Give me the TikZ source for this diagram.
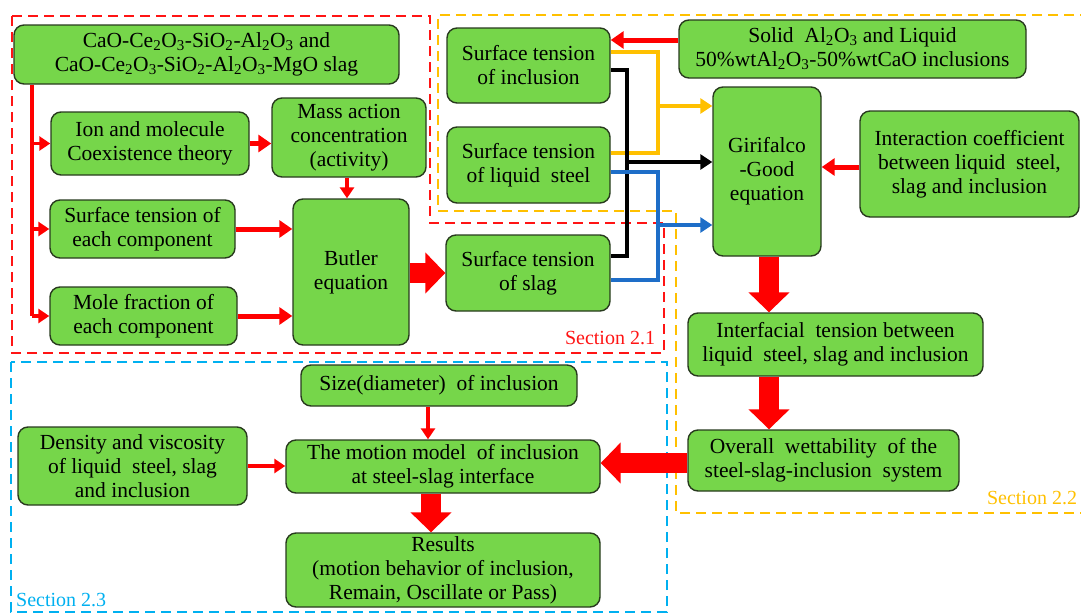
\documentclass[tikz,border=0pt]{standalone}
\usepackage{fontspec}
\setmainfont{Liberation Serif}
\usetikzlibrary{arrows.meta}
\definecolor{boxgreen}{RGB}{118,214,74}
\definecolor{boxedge}{RGB}{40,58,30}
\definecolor{secred}{RGB}{255,20,20}
\definecolor{secorange}{RGB}{255,192,0}
\definecolor{seccyan}{RGB}{0,176,240}
\definecolor{flowblue}{RGB}{30,110,200}
\definecolor{flowred}{RGB}{255,0,0}
\tikzset{
  box/.style={draw=boxedge, line width=1.4pt, fill=boxgreen, rounded corners=10pt,
    align=center, inner sep=0pt, font=\fontsize{21.5}{24}\selectfont},
  secframe/.style={line width=2.4pt, dash pattern=on 10pt off 6pt},
  thinarrow/.style={draw=flowred, line width=3.2pt, -{Triangle[length=11pt,width=14pt]}},
  medarrow/.style={draw=flowred, line width=5pt, -{Triangle[length=13pt,width=17pt]}},
  bigarrow/.style={draw=flowred, line width=20pt, -{Triangle[length=20pt,width=40pt]}},
  flowline/.style={line width=4.2pt},
  flowarrow/.style={line width=4.2pt, -{Triangle[length=12pt,width=15pt]}},
  seclabel/.style={font=\fontsize{20}{22}\selectfont, inner sep=0pt}
}
\begin{document}
\begin{tikzpicture}[x=1pt,y=-1pt]
\useasboundingbox (0,0) rectangle (1081,613);
\begin{scope}
\clip (0,0) rectangle (1081,613);
% section frames
\draw[secframe, draw=secred] (12,16) -- (430,16) -- (430,223) -- (664,223) -- (664,353) -- (12,353) -- cycle;
\draw[secframe, draw=secorange] (1090,15) -- (438,15) -- (438,211) -- (676,211) -- (676,513) -- (1090,513);
\draw[secframe, draw=seccyan] (11,362) rectangle (667,612);
\end{scope}
\node[seclabel, text=secred] (s21) at (610,338) {Section 2.1};
\node[seclabel, text=secorange] (s22) at (1032,498) {Section 2.2};
\node[seclabel, text=seccyan, anchor=west] (s23) at (16,600) {Section 2.3};

% boxes
\node[box, minimum width=385pt, minimum height=59pt] (slag) at (206.5,54.5)
  {CaO-Ce\textsubscript{2}O\textsubscript{3}-SiO\textsubscript{2}-Al\textsubscript{2}O\textsubscript{3} and\\
   CaO-Ce\textsubscript{2}O\textsubscript{3}-SiO\textsubscript{2}-Al\textsubscript{2}O\textsubscript{3}-MgO slag};
\node[box, minimum width=198pt, minimum height=63pt] (ion) at (150,143.5) {Ion and molecule\\Coexistence theory};
\node[box, minimum width=154pt, minimum height=79pt] (mass) at (349,137.5) {Mass action\\concentration\\(activity)};
\node[box, minimum width=185pt, minimum height=58pt] (each) at (142.5,229) {Surface tension of\\each component};
\node[box, minimum width=187pt, minimum height=58pt] (mole) at (143.5,316) {Mole fraction of\\each component};
\node[box, minimum width=116pt, minimum height=146pt] (butler) at (351,272) {Butler\\equation};
\node[box, minimum width=164pt, minimum height=76pt] (stslag) at (528,273) {Surface tension\\of slag};
\node[box, minimum width=163pt, minimum height=75pt] (stincl) at (528.5,65.5) {Surface tension\\of inclusion};
\node[box, minimum width=163pt, minimum height=76pt] (ststeel) at (528.5,165) {Surface tension\\of liquid\ \ steel};
\node[box, minimum width=347pt, minimum height=58pt] (solid) at (852.5,49)
  {Solid\ \ Al\textsubscript{2}O\textsubscript{3} and Liquid\\50\%wtAl\textsubscript{2}O\textsubscript{3}-50\%wtCaO inclusions};
\node[box, minimum width=108pt, minimum height=169pt] (giri) at (767,171.5) {Girifalco\\-Good\\equation};
\node[box, minimum width=219pt, minimum height=106pt] (inter) at (969.5,164) {Interaction coefficient\\between liquid\ \ steel,\\slag and inclusion};
\node[box, minimum width=295pt, minimum height=63pt] (interf) at (835.5,344.5) {Interfacial\ \ tension between\\liquid\ \ steel, slag and inclusion};
\node[box, minimum width=271pt, minimum height=61pt] (overall) at (823.5,460.5) {Overall\ \ wettability\ \ of the\\steel-slag-inclusion\ \ system};
\node[box, minimum width=276pt, minimum height=41pt] (size) at (439,385.5) {Size(diameter)\ \ of inclusion};
\node[box, minimum width=314pt, minimum height=53pt] (motion) at (443,466.5) {The motion model\ \ of inclusion\\at steel-slag interface};
\node[box, minimum width=229pt, minimum height=78pt] (dens) at (132.5,466) {Density and viscosity\\of liquid\ \ steel, slag\\and inclusion};
\node[box, minimum width=314pt, minimum height=74pt] (res) at (443,570) {Results\\(motion behavior of inclusion,\\Remain, Oscillate or Pass)};

% junction coordinates
\coordinate (trunk) at (32,0);
\coordinate (jbl) at (627,0);
\coordinate (jor) at (658,0);
\coordinate (dn) at (769,0);

% section 2.1 arrows
\draw[draw=flowred, line width=3.2pt] (slag.south -| trunk) -- (mole.west -| trunk);
\draw[thinarrow] (ion.west -| trunk) -- (ion.west);
\draw[thinarrow] (each.west -| trunk) -- (each.west);
\draw[thinarrow] (mole.west -| trunk) -- (mole.west);
\draw[medarrow] (ion.east) -- (ion.east -| mass.west);
\draw[thinarrow] ([xshift=-2pt]mass.south) -- ([xshift=-2pt]mass.south |- butler.north);
\draw[medarrow] (each.east) -- (each.east -| butler.west);
\draw[medarrow] (mole.east) -- (mole.east -| butler.west);
\draw[bigarrow] (butler.east |- stslag.west) -- (stslag.west);

% section 2.2 arrows
\draw[medarrow] (solid.west |- 0,40) -- (stincl.east |- 0,40);
\draw[flowline, draw=secorange] (stincl.east |- 0,52) -- (jor |- 0,52) -- (jor |- 0,153) -- (ststeel.east |- 0,153);
\draw[flowarrow, draw=secorange] (jor |- 0,106) -- (giri.west |- 0,106);
\draw[flowline, draw=black] (stincl.east |- 0,70) -- (jbl |- 0,70) -- (jbl |- 0,256) -- (stslag.east |- 0,256);
\draw[flowarrow, draw=black] (jbl |- 0,162) -- (giri.west |- 0,162);
\draw[flowline, draw=flowblue] (ststeel.east |- 0,172) -- (jor |- 0,172) -- (jor |- 0,280) -- (stslag.east |- 0,280);
\draw[flowarrow, draw=flowblue] (jor |- 0,225) -- (giri.west |- 0,225);
\draw[medarrow] (inter.west |- 0,167) -- (giri.east |- 0,167);
\draw[bigarrow] (giri.south -| dn) -- (interf.north -| dn);
\draw[bigarrow] (interf.south -| dn) -- (overall.north -| dn);
\draw[bigarrow] (overall.west |- 0,463) -- (motion.east |- 0,463);

% section 2.3 arrows
\draw[thinarrow] (size.south -| 428,0) -- (motion.north -| 428,0);
\draw[thinarrow] (dens.east) -- (dens.east -| motion.west);
\draw[bigarrow] ([xshift=-12pt]motion.south) -- ([xshift=-12pt]res.north);
\end{tikzpicture}
\end{document}
